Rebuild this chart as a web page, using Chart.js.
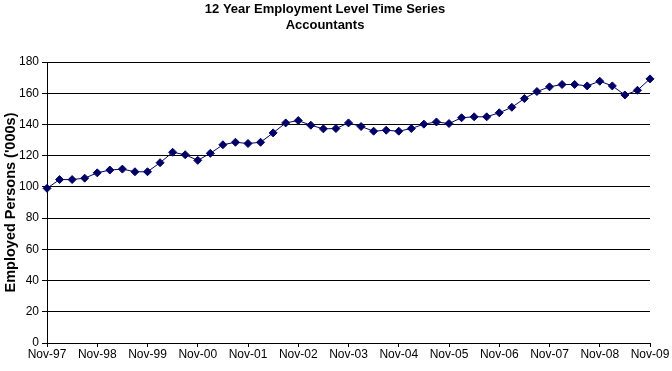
<!DOCTYPE html>
<html>
<head>
<meta charset="utf-8">
<script src="https://cdn.jsdelivr.net/npm/chart.js@4"></script>
<style>
  html, body { margin: 0; padding: 0; background: #fff; }
  canvas { display: block; }
</style>
</head>
<body>
<canvas id="chart" width="672" height="371"></canvas>
<script>
// 분기별 고용 인원 (천 명) — Nov-97 ~ Nov-09, 49개 분기
const employed = [
  99.1, 104.7, 104.7, 105.6, 109.0, 110.8, 111.4, 109.7, 109.7, 115.5,
  122.2, 120.6, 117.0, 121.5, 127.0, 128.6, 127.8, 128.6, 134.6, 141.0,
  142.5, 139.5, 137.2, 137.4, 141.0, 138.7, 135.7, 136.3, 135.7, 137.4,
  140.2, 141.6, 140.6, 144.3, 144.9, 144.9, 147.5, 151.0, 156.6, 161.1,
  164.1, 165.6, 165.6, 164.7, 167.7, 164.7, 158.9, 161.9, 169.2,
];

// 연도 눈금 라벨 (4분기마다 하나)
const yearTicks = [
  'Nov-97', 'Nov-98', 'Nov-99', 'Nov-00', 'Nov-01', 'Nov-02', 'Nov-03',
  'Nov-04', 'Nov-05', 'Nov-06', 'Nov-07', 'Nov-08', 'Nov-09',
];

const titleLines = ['12 Year Employment Level Time Series', 'Accountants'];
const yTitle = "Employed Persons ('000s)";

// 분기 라벨: 연도 눈금 위치에만 텍스트
const labels = employed.map((_, i) => (i % 4 === 0 ? yearTicks[i / 4] : ''));

const font = 'Liberation Sans, Arial, sans-serif';

new Chart(document.getElementById('chart'), {
  type: 'line',
  data: {
    labels,
    datasets: [{
      data: employed,
      borderColor: '#000066',
      borderWidth: 1,
      pointStyle: 'rectRot',
      pointRadius: 4,
      pointBackgroundColor: '#000066',
      pointBorderColor: '#000066',
      pointBorderWidth: 1,
      tension: 0,
    }],
  },
  options: {
    responsive: false,
    animation: false,
    layout: { padding: { left: 0, right: 22, top: 0, bottom: 0 } },
    plugins: {
      legend: { display: false },
      tooltip: { enabled: false },
      title: {
        display: true,
        text: titleLines,
        color: '#000',
        font: { family: font, size: 13, weight: 'bold', lineHeight: 1.27 },
        padding: { top: 1, bottom: 28 },
      },
    },
    scales: {
      x: {
        offset: false,
        afterFit: (s) => { s.height = 28; },
        grid: {
          drawOnChartArea: false,
          tickLength: 4,
          color: (ctx) => (ctx.index % 4 === 0 ? '#000' : 'transparent'),
        },
        border: { color: '#000', width: 1 },
        ticks: {
          autoSkip: false,
          maxRotation: 0,
          padding: 0,
          color: '#000',
          font: { family: font, size: 12 },
        },
      },
      y: {
        min: 0,
        max: 180,
        afterFit: (s) => { s.width = 47; },
        grid: { color: '#000', tickLength: 5 },
        border: { color: '#000', width: 1 },
        ticks: {
          stepSize: 20,
          padding: 3,
          color: '#000',
          font: { family: font, size: 12 },
        },
        title: {
          display: true,
          text: yTitle,
          color: '#000',
          font: { family: font, size: 14.5, weight: 'bold' },
          padding: { top: 2, bottom: 0 },
        },
      },
    },
  },
});
</script>
</body>
</html>
